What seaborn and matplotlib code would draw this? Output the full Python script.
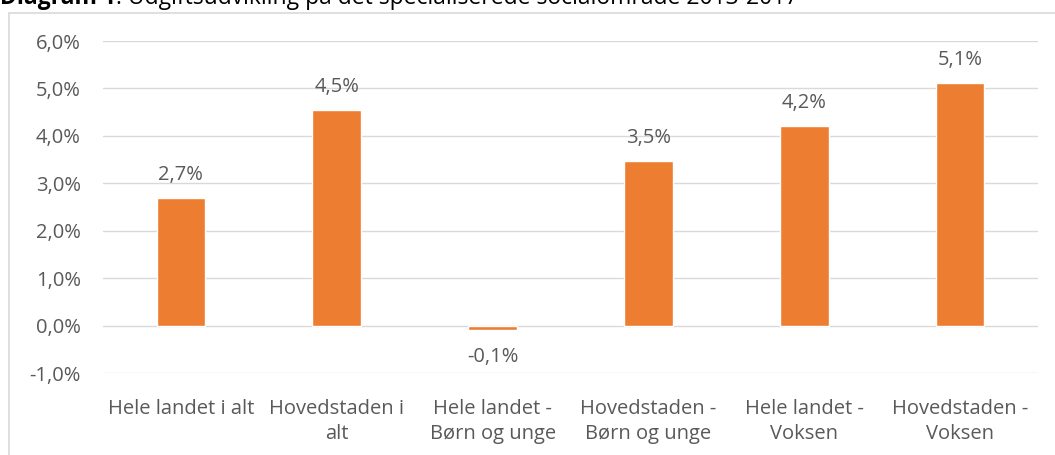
import numpy as np
import pandas as pd
import seaborn as sns
import matplotlib.pyplot as plt
from matplotlib.patches import Rectangle

categories = ['Hele landet i alt', 'Hovedstaden i\nalt', 'Hele landet -\nBørn og unge',
              'Hovedstaden -\nBørn og unge', 'Hele landet -\nVoksen', 'Hovedstaden -\nVoksen']
values = [2.68, 4.55, -0.10, 3.47, 4.20, 5.12]
labels = ['2,7%', '4,5%', '-0,1%', '3,5%', '4,2%', '5,1%']
yticks = [-1, 0, 1, 2, 3, 4, 5, 6]

sns.set_style('white')
plt.rcParams['font.family'] = ['Open Sans', 'DejaVu Sans']

grey = '#595959'
fs = 14.5
W, H = 1055, 455
fig = plt.figure(figsize=(W / 100, H / 100), dpi=100)
ax = fig.add_axes([103 / W, 1 - 373 / H, (1038 - 103) / W, (373 - 41) / H])

df = pd.DataFrame({'kat': categories, 'val': values})
sns.barplot(data=df, x='kat', y='val', color='#ED7D31', width=0.313, saturation=1, ax=ax)

ax.set_ylim(-1, 6)
ax.set_yticks(yticks)
ax.set_yticklabels([f'{t},0%' for t in yticks], color=grey, fontsize=fs)
ax.tick_params(axis='x', colors=grey, labelsize=fs, length=0, pad=19)
ax.tick_params(axis='y', length=0, pad=16)
for t in ax.get_xticklabels():
    t.set_linespacing(1.3)
ax.set_xlabel('')
ax.set_ylabel('')
ax.set_xlim(-0.5, len(categories) - 0.5)
for t in yticks:
    ax.axhline(t, color='#D9D9D9', lw=1, zorder=0)
for s in ax.spines.values():
    s.set_visible(False)

for i, (v, lab) in enumerate(zip(values, labels)):
    if v >= 0:
        ax.annotate(lab, (i, v), xytext=(0, 13), textcoords='offset points',
                    ha='center', va='baseline', color=grey, fontsize=fs)
    else:
        ax.annotate(lab, (i, v), xytext=(0, -12), textcoords='offset points',
                    ha='center', va='top', color=grey, fontsize=fs)

# chart frame (right edge lies outside the picture)
fig.patches.append(Rectangle((9 / W, -0.01), 1.1, 1 - 12.5 / H + 0.01,
                             transform=fig.transFigure, fill=False,
                             edgecolor='#D9D9D9', lw=1.2))

# title, partly cut off at the top as in the source
bold = fig.text(0, 1 - 4 / H, 'Diagram 1', fontsize=16.5, fontweight='bold', color='black',
                va='baseline', ha='left')
fig.canvas.draw()
bb = bold.get_window_extent()
fig.text(bb.x1 / W, 1 - 4 / H, ': Udgiftsudvikling på det specialiserede socialområde 2013-2017',
         fontsize=16.5, color='black', va='baseline', ha='left')

fig.savefig('out.png', dpi=100)
